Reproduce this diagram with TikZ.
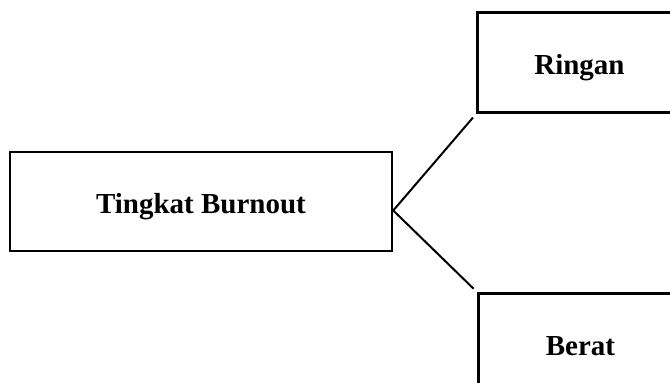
\documentclass[tikz,border=0pt]{standalone}
\usepackage{fontspec}
\setmainfont{Liberation Serif}
\usetikzlibrary{positioning}

\begin{document}
\begin{tikzpicture}[
    kotak/.style={rectangle, draw, line width=2.5pt, align=center, inner sep=2pt, text height=23pt, text depth=0pt, font=\fontsize{29pt}{34pt}\selectfont\bfseries},
    garis/.style={line width=2pt, shorten >=5pt}
]
\useasboundingbox (0,0) rectangle (670pt,-383pt);

% Kotak utama
\node[kotak, minimum width=382pt, minimum height=99pt] (burnout) at (201pt,-201.5pt) {Tingkat Burnout};

% Cabang tingkat
\node[kotak, minimum width=204pt, minimum height=100pt, above right=37pt and 83pt of burnout.north east] (ringan) {Ringan};
\node[kotak, minimum width=204pt, minimum height=100pt, below right=40pt and 84pt of burnout.south east] (berat) {Berat};

% Garis
\coordinate (cabang) at ([yshift=-9pt]burnout.east);
\draw[garis] (cabang) -- (ringan.south west);
\draw[garis] (cabang) -- (berat.north west);

\end{tikzpicture}
\end{document}
